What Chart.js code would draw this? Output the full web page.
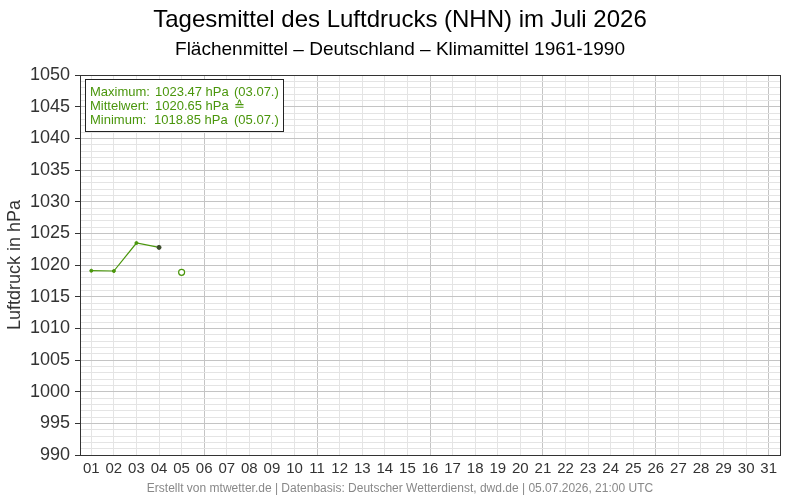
<!DOCTYPE html>
<html><head><meta charset="utf-8">
<script src="https://cdn.jsdelivr.net/npm/chart.js@4/dist/chart.umd.min.js"></script>
<style>html,body{margin:0;padding:0;background:#fff}#wrap{width:800px;height:500px}</style>
</head><body><div id="wrap"><canvas id="c" width="800" height="500"></canvas></div>
<script>
const days = ["01","02","03","04","05","06","07","08","09","10","11","12","13","14","15","16","17","18","19","20","21","22","23","24","25","26","27","28","29","30","31"];
const dailyMean = [1019.1, 1019.05, 1023.47, 1022.78];
const provisional = [null, null, null, null, 1018.85];
const statLabels = ["Maximum:", "Mittelwert:", "Minimum:"];
const statValues = ["1023.47 hPa", "1020.65 hPa", "1018.85 hPa"];
const statNotes = ["(03.07.)", "\u2259", "(05.07.)"];
const yMin = 990, yMax = 1050;

const green = "#4a960c";
const FONT = "'Liberation Sans', Arial, sans-serif";

const deco = {
  id: "deco",
  afterDraw(chart) {
    const ctx = chart.ctx, a = chart.chartArea;
    ctx.save();
    ctx.strokeStyle = "#333"; ctx.lineWidth = 1;
    ctx.strokeRect(Math.round(a.left) + 0.5, Math.round(a.top) + 0.5, Math.round(a.right - a.left), Math.round(a.bottom - a.top));
    ctx.fillStyle = "#000"; ctx.textAlign = "center"; ctx.textBaseline = "middle";
    ctx.font = "24px " + FONT;
    ctx.fillText("Tagesmittel des Luftdrucks (NHN) im Juli 2026", 400, 20);
    ctx.font = "19px " + FONT;
    ctx.fillStyle = "#000";
    ctx.fillText("Fl\u00e4chenmittel \u2013 Deutschland \u2013 Klimamittel 1961-1990", 400, 50);
    ctx.font = "12px " + FONT; ctx.fillStyle = "#888";
    ctx.fillText("Erstellt von mtwetter.de | Datenbasis: Deutscher Wetterdienst, dwd.de | 05.07.2026, 21:00 UTC", 400, 489);
    // stats box
    const bx = a.left + 5.5, by = a.top + 4.5, bw = 198, bh = 52;
    ctx.fillStyle = "#fff"; ctx.fillRect(bx, by, bw, bh);
    ctx.strokeStyle = "#222"; ctx.strokeRect(bx, by, bw, bh);
    ctx.font = "13px " + FONT; ctx.fillStyle = green; ctx.textAlign = "left";
    for (let i = 0; i < 3; i++) {
      const y = by + 12.5 + i * 14;
      ctx.fillText(statLabels[i], bx + 4.5, y);
      ctx.fillText(statValues[i], bx + (i === 2 ? 68.5 : 69.5), y);
      ctx.fillText(statNotes[i], bx + 148.5, y);
    }
    ctx.restore();
  }
};

new Chart(document.getElementById("c"), {
  type: "line",
  data: {
    labels: days,
    datasets: [
      { data: dailyMean, borderColor: green, borderWidth: 1.2,
        pointRadius: [1.5, 1.5, 1.5, 2], pointBackgroundColor: [green, green, green, "#3a4a2a"],
        pointBorderColor: [green, green, green, "#3a4a2a"], pointBorderWidth: 1, tension: 0 },
      { data: provisional, borderColor: green, backgroundColor: "#fff", showLine: false,
        pointRadius: 3, pointBorderWidth: 1.2, pointBackgroundColor: "#fff", pointBorderColor: green }
    ]
  },
  options: {
    responsive: false, animation: false, events: [],
    layout: { padding: { top: 75, right: 20, left: 0, bottom: 0 } },
    plugins: { legend: { display: false }, tooltip: { enabled: false }, title: { display: false } },
    scales: {
      x: {
        type: "category", offset: true,
        grid: { offset: false, drawTicks: false, color: (c) => ((c.index + 1) % 5 === 1 && c.index > 0 ? "#c4c4c4" : "#e4e4e4"), lineWidth: 1 },
        border: { color: "#333" },
        ticks: { color: "#333", font: { size: 15, family: FONT }, padding: 5, autoSkip: false, maxRotation: 0 },
        afterFit(s) { s.height = 45; }
      },
      y: {
        min: yMin, max: yMax,
        grid: { color: (c) => (c.tick && c.tick.value % 5 === 0 ? "#c4c4c4" : "#e4e4e4"),
                tickColor: (c) => (c.tick && c.tick.value % 5 === 0 ? "#333" : "rgba(0,0,0,0)"), tickLength: 5 },
        border: { color: "#333" },
        ticks: { stepSize: 1, autoSkip: false, color: "#333", padding: 5, font: { size: 18, family: FONT },
                 callback: (v) => (v % 5 === 0 ? String(v) : "") },
        title: { display: true, text: "Luftdruck in hPa", color: "#333", font: { size: 18, family: FONT }, padding: { top: 4, bottom: 0 } },
        afterFit(s) { s.width = 80; }
      }
    }
  },
  plugins: [deco]
});
</script></body></html>
